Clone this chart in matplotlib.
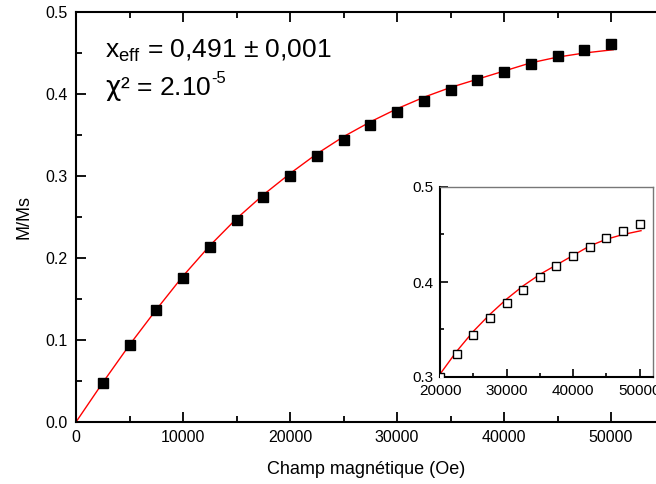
import matplotlib
matplotlib.use("Agg")
import matplotlib.pyplot as plt
from matplotlib.ticker import MultipleLocator

plt.rcParams['font.family'] = ['Liberation Sans', 'DejaVu Sans']
plt.rcParams['mathtext.fontset'] = 'custom'
plt.rcParams['mathtext.rm'] = 'Liberation Sans'
plt.rcParams['mathtext.it'] = 'DejaVu Sans'

# points mesures
champ = [2500, 5000, 7500, 10000, 12500, 15000, 17500, 20000, 22500, 25000,
         27500, 30000, 32500, 35000, 37500, 40000, 42500, 45000, 47500, 50000]
m_ms = [0.047, 0.094, 0.137, 0.176, 0.213, 0.246, 0.274, 0.300, 0.324, 0.344,
        0.362, 0.378, 0.392, 0.405, 0.417, 0.427, 0.437, 0.446, 0.454, 0.461]

# courbe d'ajustement
fit_x = [0, 2500, 5000, 7500, 10000, 12500, 15000, 17500, 20000, 22500, 25000,
         27500, 30000, 32500, 35000, 37500, 40000, 42500, 45000, 47500, 50200]
fit_y = [0.0, 0.048, 0.094, 0.137, 0.178, 0.215, 0.248, 0.277, 0.303, 0.327, 0.348,
         0.366, 0.382, 0.396, 0.408, 0.418, 0.428, 0.438, 0.445, 0.450, 0.454]

fig = plt.figure(figsize=(6.56, 4.84), dpi=100)

ax = fig.add_axes([76/656, 62/484, 1 - 76/656, 410/484])
ax.plot(fit_x, fit_y, c='red', lw=1.0, zorder=2)
ax.plot(champ, m_ms, ls='none', marker='s', ms=7, c='black', zorder=3)
ax.set_xlim(0, 54200)
ax.set_ylim(0, 0.5)
ax.xaxis.set_major_locator(MultipleLocator(10000))
ax.xaxis.set_minor_locator(MultipleLocator(5000))
ax.yaxis.set_major_locator(MultipleLocator(0.1))
ax.yaxis.set_minor_locator(MultipleLocator(0.05))
ax.yaxis.set_major_formatter(plt.FormatStrFormatter('%.1f'))
ax.tick_params(which='both', direction='in', top=True, labelsize=11.5, width=1.3)
ax.tick_params(which='major', length=7, pad=6)
ax.tick_params(which='minor', length=4)
ax.spines['right'].set_visible(False)
for s in ['left', 'bottom', 'top']:
    ax.spines[s].set_linewidth(1.5)
ax.set_xlabel('Champ magnétique (Oe)', fontsize=13, labelpad=11)
ax.set_ylabel('M/Ms', fontsize=13, labelpad=9)

# textes (coordonnees figure, depuis le haut)
fig.text(105/656, 1 - 57/484, r'x$_{\rm eff}$ = 0,491 ± 0,001', fontsize=19, va='baseline')
t_chi = fig.text(105/656, 1 - 95/484, r'$\chi$² = 2.10', fontsize=19, va='baseline')
ax.annotate('-5', xy=(1.0, 0.62), xycoords=t_chi, fontsize=12, ha='left', va='bottom',
            annotation_clip=False)

# encart
ins = fig.add_axes([440/656, 107/484, 213/656, 190/484])
ins.plot(fit_x, fit_y, c='red', lw=1.0, zorder=2)
ins.plot(champ, m_ms, ls='none', marker='s', ms=6, mfc='white', mec='black',
         mew=1.0, c='black', zorder=3)
ins.set_xlim(20000, 52000)
ins.set_ylim(0.3, 0.5)
ins.xaxis.set_major_locator(MultipleLocator(10000))
ins.xaxis.set_minor_locator(MultipleLocator(5000))
ins.yaxis.set_major_locator(MultipleLocator(0.1))
ins.yaxis.set_minor_locator(MultipleLocator(0.05))
ins.yaxis.set_major_formatter(plt.FormatStrFormatter('%.1f'))
ins.tick_params(which='both', direction='in', labelsize=11, width=1.2)
ins.tick_params(which='major', length=6, pad=5)
ins.tick_params(which='minor', length=3)
for s in ['left', 'bottom']:
    ins.spines[s].set_linewidth(1.5)
for s in ['top', 'right']:
    ins.spines[s].set_color('#777777')
    ins.spines[s].set_linewidth(1.0)

fig.savefig('out.png', dpi=100)
